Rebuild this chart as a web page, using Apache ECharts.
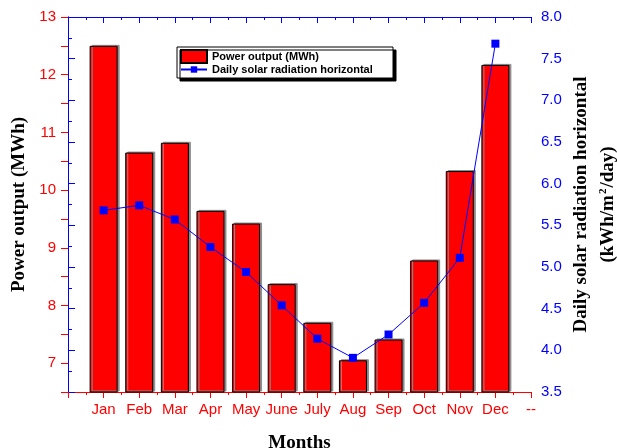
<!DOCTYPE html>
<html>
<head>
<meta charset="utf-8">
<script src="https://cdn.jsdelivr.net/npm/echarts@6/dist/echarts.min.js"></script>
<style>html,body{margin:0;padding:0;background:#fff}#c{width:617px;height:448px}</style>
</head>
<body>
<div id="c"></div>
<script>
const months = ['Jan','Feb','Mar','Apr','May','June','July','Aug','Sep','Oct','Nov','Dec'];
const xTickLabels = ['', 'Jan','Feb','Mar','Apr','May','June','July','Aug','Sep','Oct','Nov','Dec','--'];
const powerOutput = [12.50, 10.65, 10.82, 9.64, 9.42, 8.37, 7.70, 7.05, 7.41, 8.78, 10.33, 12.17];
const solarRadiation = [5.68, 5.74, 5.57, 5.24, 4.94, 4.54, 4.14, 3.91, 4.19, 4.57, 5.11, 7.68];

const RED = '#ff0000', BLUE = '#0000ff';
const labelFont = 'Liberation Sans';
const nameFont = 'Liberation Serif';
const legendText = { fontFamily: labelFont, fontWeight: 'bold', fontSize: 11, color: '#000' };

const chart = echarts.init(document.getElementById('c'));
chart.setOption({
  animation: false,
  backgroundColor: '#fff',
  grid: { left: 68, right: 86, top: 17, bottom: 56, containLabel: false, outerBoundsMode: 'none' },
  graphic: [{
    type: 'rect', z: 3, silent: true,
    shape: { x: 177, y: 47, width: 216, height: 31 },
    style: { fill: '#fff', stroke: '#000', lineWidth: 1,
      shadowColor: '#000', shadowBlur: 0, shadowOffsetX: 3, shadowOffsetY: 3 }
  }],
  legend: [{
    orient: 'vertical', left: 180, top: 49, padding: 0,
    itemWidth: 26, itemHeight: 13, icon: 'rect',
    textStyle: legendText,
    data: ['Power output (MWh)']
  }, {
    orient: 'vertical', left: 180, top: 64, padding: 0,
    itemWidth: 26, itemHeight: 8,
    textStyle: legendText,
    data: ['Daily solar radiation horizontal']
  }],
  xAxis: [{
    type: 'value', position: 'bottom', min: 0, max: 13, interval: 1,
    splitLine: { show: false },
    axisLine: { lineStyle: { color: RED, width: 1 } },
    axisTick: { lineStyle: { color: RED }, length: 6 },
    minorTick: { show: true, splitNumber: 2, length: 3, lineStyle: { color: RED } },
    axisLabel: { color: RED, fontFamily: labelFont, fontSize: 15, margin: 10,
      formatter: v => xTickLabels[Math.round(v)] || '' },
    name: 'Months', nameLocation: 'middle', nameGap: 42, nameMoveOverlap: false,
    nameTextStyle: { fontFamily: nameFont, fontWeight: 'bold', fontSize: 19, color: '#000' }
  }, {
    type: 'value', position: 'top', min: 0, max: 13, interval: 1,
    splitLine: { show: false },
    axisLine: { lineStyle: { color: BLUE, width: 1 } },
    axisTick: { inside: true, lineStyle: { color: BLUE }, length: 6 },
    minorTick: { show: true, splitNumber: 2, length: 3, lineStyle: { color: BLUE } },
    axisLabel: { show: false }
  }],
  yAxis: [{
    type: 'value', position: 'left', min: 6.5, max: 13, interval: 0.5,
    splitLine: { show: false },
    axisLine: { show: true, lineStyle: { color: RED, width: 1 } },
    axisTick: { show: true, lineStyle: { color: RED }, length: 7 },
    axisLabel: { color: RED, fontFamily: labelFont, fontSize: 15, margin: 12,
      formatter: v => (Math.abs(v - Math.round(v)) < 1e-6 && v > 6.6) ? String(Math.round(v)) : '' },
    name: 'Power output (MWh)', nameLocation: 'middle', nameGap: 39, nameRotate: 90, nameMoveOverlap: false,
    nameTextStyle: { fontFamily: nameFont, fontWeight: 'bold', fontSize: 19, color: '#000' }
  }, {
    type: 'value', position: 'right', min: 3.5, max: 8, interval: 0.5,
    splitLine: { show: false },
    axisLine: { show: true, lineStyle: { color: BLUE, width: 1 } },
    axisTick: { show: true, lineStyle: { color: BLUE }, length: 7 },
    minorTick: { show: true, splitNumber: 2, length: 4, lineStyle: { color: BLUE } },
    axisLabel: { color: BLUE, fontFamily: labelFont, fontSize: 15, margin: 10,
      formatter: v => v.toFixed(1) },
    name: '{a|Daily solar radiation horizontal}\n{a|(kWh/m}{s|2}{a|/day)}',
    nameLocation: 'middle', nameGap: 37, nameRotate: 90, nameMoveOverlap: false,
    nameTextStyle: {
      fontFamily: nameFont, fontWeight: 'bold', fontSize: 19, color: '#000', lineHeight: 27,
      rich: {
        a: { fontFamily: nameFont, fontWeight: 'bold', fontSize: 19, color: '#000', lineHeight: 27 },
        s: { fontFamily: nameFont, fontWeight: 'bold', fontSize: 11, color: '#000', padding: [0, 1, 11, 1] }
      }
    }
  }],
  series: [{
    name: 'Power output (MWh)',
    type: 'bar', xAxisIndex: 0, yAxisIndex: 0,
    barWidth: 28,
    data: powerOutput.map((v, i) => [i + 1, v]),
    itemStyle: { color: RED, borderColor: '#000', borderWidth: 1,
      shadowColor: '#8c8c8c', shadowBlur: 0, shadowOffsetX: 2, shadowOffsetY: -1 }
  }, {
    name: 'Daily solar radiation horizontal',
    type: 'line', xAxisIndex: 0, yAxisIndex: 1,
    data: solarRadiation.map((v, i) => [i + 1, v]),
    symbol: 'rect', symbolSize: 8,
    lineStyle: { color: BLUE, width: 1 },
    itemStyle: { color: BLUE }
  }]
});
</script>
</body>
</html>
